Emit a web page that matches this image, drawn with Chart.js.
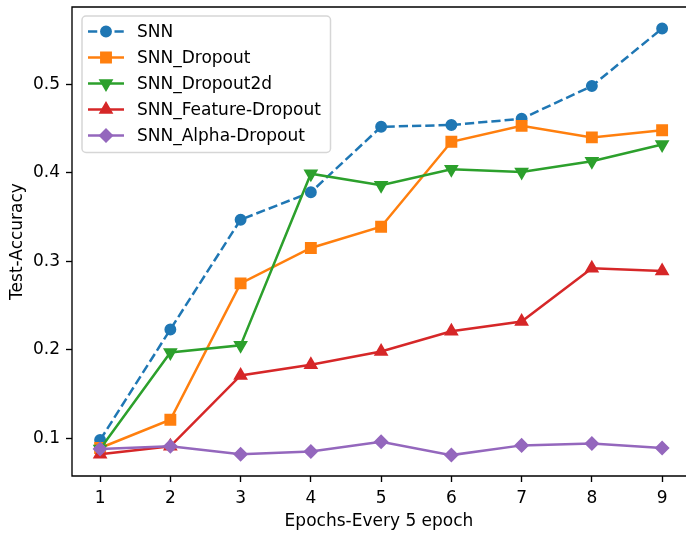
<!DOCTYPE html>
<html>
<head>
<meta charset="utf-8">
<script src="https://cdn.jsdelivr.net/npm/chart.js"></script>
<style>
  html, body { margin: 0; padding: 0; background: #fff; overflow: hidden; }
  #wrap { position: absolute; left: 0; top: 0; width: 686px; height: 533px; }
  canvas { display: block; width: 686px; height: 533px; }
</style>
</head>
<body>
<div id="wrap"><canvas id="c" width="686" height="533"></canvas></div>
<script>
// Test accuracy per checkpoint (one checkpoint every 5 epochs)
const epochs = [1, 2, 3, 4, 5, 6, 7, 8, 9];
const snn              = [0.098, 0.223, 0.347, 0.378, 0.452, 0.454, 0.461, 0.498, 0.563];
const snnDropout       = [0.089, 0.121, 0.275, 0.315, 0.339, 0.435, 0.453, 0.440, 0.448];
const snnDropout2d     = [0.088, 0.197, 0.205, 0.399, 0.386, 0.404, 0.401, 0.413, 0.432];
const snnFeatureDrop   = [0.082, 0.091, 0.171, 0.183, 0.198, 0.221, 0.232, 0.292, 0.289];
const snnAlphaDrop     = [0.088, 0.091, 0.082, 0.085, 0.096, 0.081, 0.092, 0.094, 0.089];
const seriesNames = ['SNN', 'SNN_Dropout', 'SNN_Dropout2d', 'SNN_Feature-Dropout', 'SNN_Alpha-Dropout'];
const xTickLabels = ['1', '2', '3', '4', '5', '6', '7', '8', '9'];
const yTickValues = [0.1, 0.2, 0.3, 0.4, 0.5];

const FONT = { family: '"DejaVu Sans", sans-serif', size: 17 };
const LW = 2.5;

function pts(vals) { return epochs.map((e, i) => ({ x: e, y: vals[i] })); }

function series(label, vals, color, style, radius, extra) {
  return Object.assign({
    label: label,
    data: pts(vals),
    borderColor: color,
    backgroundColor: color,
    pointBackgroundColor: color,
    pointBorderColor: color,
    borderWidth: LW,
    pointStyle: style,
    pointRadius: radius,
    pointHoverRadius: radius,
    pointBorderWidth: 1.7,
    tension: 0,
    fill: false
  }, extra || {});
}

const datasets = [
  series(seriesNames[0], snn,            '#1f77b4', 'circle',   5.1, { borderDash: [9.25, 4], order: 5 }),
  series(seriesNames[1], snnDropout,     '#ff7f0e', 'rect',     7.2, { order: 4 }),
  series(seriesNames[2], snnDropout2d,   '#2ca02c', 'triangle', 6.8, { pointRotation: 180, order: 3 }),
  series(seriesNames[3], snnFeatureDrop, '#d62728', 'triangle', 6.8, { order: 2 }),
  series(seriesNames[4], snnAlphaDrop,   '#9467bd', 'rectRot',  6.3, { order: 1 })
];

// Axes box: left, top and bottom edges (the right edge runs past the canvas)
const frame = {
  id: 'frame',
  afterDatasetsDraw(chart) {
    const { ctx, chartArea: a } = chart;
    ctx.save();
    ctx.strokeStyle = '#000';
    ctx.lineWidth = 1.36;
    ctx.beginPath();
    ctx.moveTo(a.right + 4, a.top);
    ctx.lineTo(a.left, a.top);
    ctx.lineTo(a.left, a.bottom);
    ctx.lineTo(a.right + 4, a.bottom);
    ctx.stroke();
    ctx.restore();
  }
};

// Legend placed inside the axes, upper left
const insetLegend = {
  id: 'insetLegend',
  afterDraw(chart) {
    const ctx = chart.ctx;
    const x0 = 82, y0 = 16, w = 248.5, h = 136.5;
    ctx.save();
    ctx.beginPath();
    if (ctx.roundRect) ctx.roundRect(x0, y0, w, h, 4); else ctx.rect(x0, y0, w, h);
    ctx.fillStyle = 'rgba(255,255,255,0.8)';
    ctx.fill();
    ctx.strokeStyle = 'rgba(204,204,204,0.8)';
    ctx.lineWidth = 1.5;
    ctx.stroke();
    chart.data.datasets.forEach((ds, i) => {
      const y = 31.5 + i * 26;
      ctx.beginPath();
      ctx.setLineDash(ds.borderDash || []);
      ctx.strokeStyle = ds.borderColor;
      ctx.lineWidth = ds.borderWidth;
      ctx.moveTo(88, y);
      ctx.lineTo(124, y);
      ctx.stroke();
      ctx.setLineDash([]);
      ctx.fillStyle = ds.pointBackgroundColor;
      ctx.strokeStyle = ds.pointBorderColor;
      ctx.lineWidth = ds.pointBorderWidth;
      const opts = { pointStyle: ds.pointStyle, radius: ds.pointRadius, rotation: ds.pointRotation || 0, borderWidth: ds.pointBorderWidth };
      if (Chart.helpers && Chart.helpers.drawPoint) {
        Chart.helpers.drawPoint(ctx, opts, 106, y);
      } else {
        ctx.beginPath(); ctx.arc(106, y, ds.pointRadius, 0, Math.PI * 2); ctx.fill(); ctx.stroke();
      }
      ctx.fillStyle = '#000';
      ctx.font = FONT.size + 'px ' + FONT.family;
      ctx.textBaseline = 'middle';
      ctx.textAlign = 'left';
      ctx.fillText(ds.label, 137, y + 1);
    });
    ctx.restore();
  }
};

new Chart(document.getElementById('c'), {
  type: 'line',
  data: { datasets: datasets },
  options: {
    responsive: false,
    animation: false,
    devicePixelRatio: 1,
    layout: { autoPadding: false, padding: { top: 7, left: 0, right: 0, bottom: 0 } },
    plugins: { legend: { display: false }, tooltip: { enabled: false } },
    scales: {
      x: {
        type: 'linear',
        min: 0.6,
        max: 9.34,
        afterBuildTicks: s => { s.ticks = epochs.map(v => ({ value: v })); },
        afterFit: s => { s.height = 57; s.paddingLeft = 0; s.paddingRight = 0; },
        ticks: {
          font: FONT, color: '#000', padding: 6, maxRotation: 0, autoSkip: false,
          callback: (v) => xTickLabels[epochs.indexOf(v)]
        },
        grid: { drawOnChartArea: false, drawTicks: true, tickLength: 6, tickWidth: 1.36, tickColor: '#000' },
        border: { display: false },
        title: { display: true, text: 'Epochs-Every 5 epoch', font: FONT, color: '#000', padding: { top: 0, bottom: 1 } }
      },
      y: {
        type: 'linear',
        min: 0.0574,
        max: 0.5873,
        afterBuildTicks: s => { s.ticks = yTickValues.map(v => ({ value: v })); },
        afterFit: s => { s.width = 72; s.paddingTop = 0; s.paddingBottom = 0; },
        ticks: {
          font: FONT, color: '#000', padding: 6, autoSkip: false,
          callback: (v) => v.toFixed(1)
        },
        grid: { drawOnChartArea: false, drawTicks: true, tickLength: 6, tickWidth: 1.36, tickColor: '#000' },
        border: { display: false },
        title: { display: true, text: 'Test-Accuracy', font: FONT, color: '#000', padding: { top: 7, bottom: 0 } }
      }
    }
  },
  plugins: [frame, insetLegend]
});
</script>
</body>
</html>
